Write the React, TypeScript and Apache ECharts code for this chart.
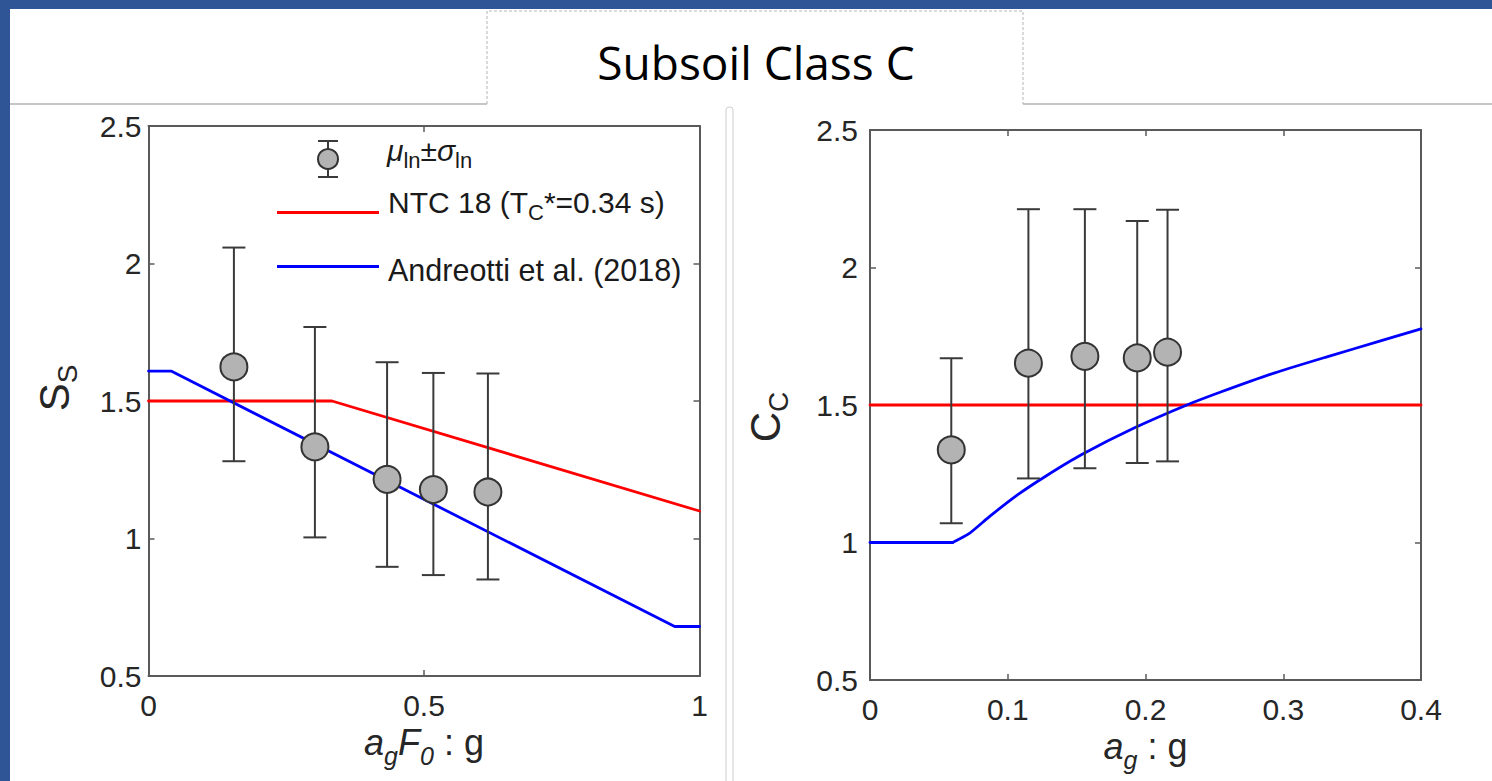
import React, { useEffect, useRef } from "react";
import * as echarts from "echarts";

// ---- Left panel: soil amplification S_S against a_g·F_0 ----
const ssX = [0.155, 0.302, 0.433, 0.517, 0.616];
const ssMean = [1.624, 1.333, 1.215, 1.178, 1.169];
const ssLow = [1.281, 1.004, 0.897, 0.867, 0.851];
const ssHigh = [2.058, 1.769, 1.641, 1.602, 1.6];
const ssNtc: number[][] = [
  [0, 1.5],
  [0.333, 1.5],
  [1, 1.1],
];
const ssAndreotti: number[][] = [
  [0, 1.609],
  [0.041, 1.609],
  [0.955, 0.68],
  [1, 0.68],
];

// ---- Right panel: C_C against a_g ----
const ccX = [0.059, 0.115, 0.156, 0.194, 0.216];
const ccMean = [1.337, 1.652, 1.677, 1.671, 1.692];
const ccLow = [1.07, 1.233, 1.27, 1.289, 1.295];
const ccHigh = [1.67, 2.212, 2.212, 2.169, 2.21];
const ccNtc: number[][] = [
  [0, 1.5],
  [0.4, 1.5],
];
const ccAndreottiFlat: number[][] = [
  [0, 1.0],
  [0.06, 1.0],
];
const ccAndreottiRise: number[][] = [
  [0.06, 1.0],
  [0.0716, 1.031],
  [0.0869, 1.095],
  [0.1073, 1.174],
  [0.1278, 1.242],
  [0.1534, 1.319],
  [0.1917, 1.416],
  [0.23, 1.5],
  [0.2556, 1.549],
  [0.2939, 1.617],
  [0.3323, 1.676],
  [0.3706, 1.733],
  [0.4, 1.777],
];

// Axis ranges / tick steps
const yMin = 0.5;
const yMax = 2.5;
const yStep = 0.5;
const ssXMax = 1;
const ssXStep = 0.5;
const ccXMax = 0.4;
const ccXStep = 0.1;

const FONT = "'Liberation Sans', Arial, Helvetica, sans-serif";
const AXIS_COLOR = "#5a5a5a";
const TEXT_COLOR = "#262626";
const RED = "#ff0000";
const BLUE = "#0000ff";
const MARKER_FILL = "#b3b3b3";
const MARKER_EDGE = "#333333";
const BAR_COLOR = "#3a3a3a";
const FRAME_BLUE = "#2f5597";

const axisLine = { show: true, onZero: false, lineStyle: { color: AXIS_COLOR, width: 2 } };
const axisTick = { show: true, inside: true, length: 6, lineStyle: { color: AXIS_COLOR, width: 1.5 } };
const tickLabel = { fontFamily: FONT, fontSize: 30, color: TEXT_COLOR };

const xNameRich = {
  i: { fontFamily: FONT, fontSize: 36, fontStyle: "italic", color: TEXT_COLOR, lineHeight: 44, verticalAlign: "top" },
  is: { fontFamily: FONT, fontSize: 25, fontStyle: "italic", color: TEXT_COLOR, lineHeight: 8, verticalAlign: "bottom" },
  n: { fontFamily: FONT, fontSize: 36, color: TEXT_COLOR, lineHeight: 44, verticalAlign: "top" },
};
const yNameRich = {
  b: { fontFamily: FONT, fontSize: 42, color: TEXT_COLOR, lineHeight: 48, verticalAlign: "top" },
  s: { fontFamily: FONT, fontSize: 28, color: TEXT_COLOR, lineHeight: 8, verticalAlign: "bottom" },
};

function valueXAxis(gridIndex: number, max: number, step: number, position: string, extra: any = {}) {
  return {
    type: "value",
    gridIndex,
    min: 0,
    max,
    interval: step,
    position,
    axisLine,
    axisTick,
    axisLabel: position === "bottom" ? { ...tickLabel, margin: 14 } : { show: false },
    splitLine: { show: false },
    ...extra,
  };
}

function valueYAxis(gridIndex: number, position: string, labelMargin: number, extra: any = {}) {
  return {
    type: "value",
    gridIndex,
    min: yMin,
    max: yMax,
    interval: yStep,
    position,
    axisLine,
    axisTick,
    axisLabel: position === "left" ? { ...tickLabel, margin: labelMargin } : { show: false },
    splitLine: { show: false },
    ...extra,
  };
}

function errorBars(axisIndex: number, xs: number[], lo: number[], hi: number[]) {
  return {
    type: "custom",
    xAxisIndex: axisIndex,
    yAxisIndex: axisIndex,
    z: 3,
    data: xs.map((x, i) => [x, lo[i], hi[i]]),
    encode: { x: 0, y: [1, 2] },
    renderItem: (_params: any, api: any) => {
      const x = api.value(0);
      const a = api.coord([x, api.value(1)]);
      const b = api.coord([x, api.value(2)]);
      const hw = 11.5;
      const style = { stroke: BAR_COLOR, lineWidth: 2, fill: "none" };
      return {
        type: "group",
        children: [
          { type: "line", shape: { x1: a[0], y1: a[1], x2: b[0], y2: b[1] }, style },
          { type: "line", shape: { x1: a[0] - hw, y1: a[1], x2: a[0] + hw, y2: a[1] }, style },
          { type: "line", shape: { x1: b[0] - hw, y1: b[1], x2: b[0] + hw, y2: b[1] }, style },
        ],
      };
    },
  };
}

function means(axisIndex: number, xs: number[], ys: number[]) {
  return {
    type: "scatter",
    xAxisIndex: axisIndex,
    yAxisIndex: axisIndex,
    z: 4,
    symbol: "circle",
    symbolSize: 27,
    itemStyle: { color: MARKER_FILL, borderColor: MARKER_EDGE, borderWidth: 2, opacity: 1 },
    data: xs.map((x, i) => [x, ys[i]]),
  };
}

function curve(axisIndex: number, data: number[][], color: string, smooth: number = 0) {
  return {
    type: "line",
    xAxisIndex: axisIndex,
    yAxisIndex: axisIndex,
    z: 2,
    symbol: "none",
    showSymbol: false,
    smooth,
    lineStyle: { color, width: 2.8, cap: "round", join: "round" },
    data,
  };
}

const legendRich = {
  gi: { fontFamily: FONT, fontSize: 30, fontStyle: "italic", fill: "#1a1a1a", lineHeight: 36, verticalAlign: "top" },
  g: { fontFamily: FONT, fontSize: 30, fill: "#1a1a1a", lineHeight: 36, verticalAlign: "top" },
  sub: { fontFamily: FONT, fontSize: 22, fill: "#1a1a1a", lineHeight: 8, verticalAlign: "bottom" },
};

const graphics: any[] = [
  // slide frame
  { type: "rect", z: -10, shape: { x: 0, y: 0, width: 1492, height: 9 }, style: { fill: FRAME_BLUE } },
  { type: "rect", z: -10, shape: { x: 0, y: 0, width: 10, height: 781 }, style: { fill: FRAME_BLUE } },
  { type: "line", z: -10, shape: { x1: 10, y1: 104, x2: 487, y2: 104 }, style: { stroke: "#c6c6c6", lineWidth: 2 } },
  { type: "line", z: -10, shape: { x1: 1023, y1: 104, x2: 1492, y2: 104 }, style: { stroke: "#c6c6c6", lineWidth: 2 } },
  {
    type: "polyline",
    z: -10,
    shape: { points: [[487, 104], [487, 11], [1023, 11], [1023, 104]] },
    style: { stroke: "#b4b4b4", lineWidth: 1, lineDash: [3, 2], fill: "none" },
  },
  {
    type: "rect",
    z: -10,
    shape: { x: 726, y: 107, width: 7, height: 700, r: 3 },
    style: { stroke: "#cdcdcd", lineWidth: 1, fill: "#ffffff" },
  },
  {
    type: "text",
    z: 10,
    style: {
      text: "Subsoil Class C",
      x: 756,
      y: 62,
      align: "center",
      verticalAlign: "middle",
      fontFamily: "'Open Sans', 'Noto Sans', sans-serif",
      fontSize: 46,
      fill: "#000000",
    },
  },
  // legend: mean ± std marker
  { type: "line", z: 10, shape: { x1: 328, y1: 141, x2: 328, y2: 177 }, style: { stroke: BAR_COLOR, lineWidth: 2 } },
  { type: "line", z: 10, shape: { x1: 318, y1: 141, x2: 338, y2: 141 }, style: { stroke: BAR_COLOR, lineWidth: 2 } },
  { type: "line", z: 10, shape: { x1: 318, y1: 177, x2: 338, y2: 177 }, style: { stroke: BAR_COLOR, lineWidth: 2 } },
  { type: "circle", z: 11, shape: { cx: 328, cy: 159, r: 10 }, style: { fill: MARKER_FILL, stroke: MARKER_EDGE, lineWidth: 2 } },
  {
    type: "text",
    z: 10,
    style: {
      text: "{gi|μ}{sub|ln}{g|±}{gi|σ}{sub|ln}",
      x: 387,
      y: 153,
      align: "left",
      verticalAlign: "middle",
      rich: legendRich,
    },
  },
  // legend: NTC 18
  { type: "line", z: 10, shape: { x1: 277, y1: 212.5, x2: 379, y2: 212.5 }, style: { stroke: RED, lineWidth: 2.8 } },
  {
    type: "text",
    z: 10,
    style: {
      text: "{g|NTC 18 (T}{sub|C}{g|*=0.34 s)}",
      x: 388,
      y: 205.5,
      align: "left",
      verticalAlign: "middle",
      rich: legendRich,
    },
  },
  // legend: Andreotti et al.
  { type: "line", z: 10, shape: { x1: 277, y1: 266.5, x2: 379, y2: 266.5 }, style: { stroke: BLUE, lineWidth: 2.8 } },
  {
    type: "text",
    z: 10,
    style: {
      text: "Andreotti et al. (2018)",
      x: 388,
      y: 270,
      align: "left",
      verticalAlign: "middle",
      fontFamily: FONT,
      fontSize: 30.5,
      fill: "#1a1a1a",
    },
  },
];

const option: any = {
  animation: false,
  backgroundColor: "#ffffff",
  grid: [
    { left: 148.5, top: 126, width: 551, height: 550 },
    { left: 870, top: 130, width: 551, height: 550 },
  ],
  xAxis: [
    valueXAxis(0, ssXMax, ssXStep, "bottom", {
      name: "{i|a}{is|g}{i|F}{is|0}{n| : g}",
      nameLocation: "middle",
      nameGap: 45,
      nameTextStyle: { rich: xNameRich },
    }),
    valueXAxis(0, ssXMax, ssXStep, "top"),
    valueXAxis(1, ccXMax, ccXStep, "bottom", {
      name: "{i|a}{is|g}{n| : g}",
      nameLocation: "middle",
      nameGap: 45,
      nameTextStyle: { rich: xNameRich },
    }),
    valueXAxis(1, ccXMax, ccXStep, "top"),
  ],
  yAxis: [
    valueYAxis(0, "left", 7, {
      name: "{b|S}{s|S}",
      nameLocation: "middle",
      nameRotate: 90,
      nameGap: 67,
      nameTextStyle: { rich: yNameRich, padding: [0, 0, 0, 26] },
    }),
    valueYAxis(0, "right", 7),
    valueYAxis(1, "left", 12, {
      name: "{b|C}{s|C}",
      nameLocation: "middle",
      nameRotate: 90,
      nameGap: 78,
      nameTextStyle: { rich: yNameRich, padding: [0, 24, 0, 0] },
    }),
    valueYAxis(1, "right", 12),
  ],
  graphic: { elements: graphics },
  series: [
    curve(0, ssNtc, RED),
    curve(0, ssAndreotti, BLUE),
    errorBars(0, ssX, ssLow, ssHigh),
    means(0, ssX, ssMean),
    curve(2, ccNtc, RED),
    curve(2, ccAndreottiFlat, BLUE),
    curve(2, ccAndreottiRise, BLUE, 0.2),
    errorBars(2, ccX, ccLow, ccHigh),
    means(2, ccX, ccMean),
  ],
};

export default function App() {
  const ref = useRef<HTMLDivElement>(null);
  useEffect(() => {
    if (!ref.current) return;
    const chart = echarts.init(ref.current, null, { renderer: "svg" });
    chart.setOption(option);
    return () => chart.dispose();
  }, []);
  return (
    <div
      ref={ref}
      style={{ position: "fixed", left: 0, top: 0, width: 1492, height: 781, background: "#ffffff" }}
    />
  );
}
